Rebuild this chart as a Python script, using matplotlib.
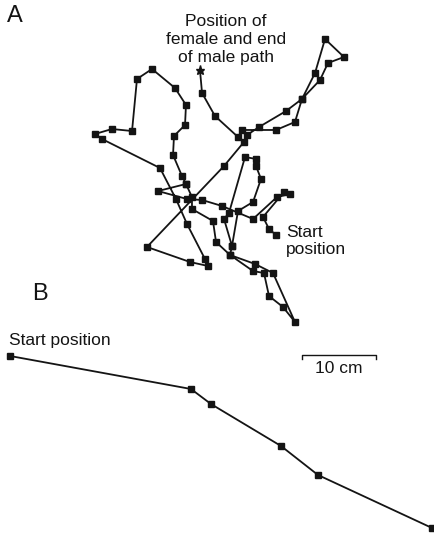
import matplotlib
matplotlib.use("Agg")
import matplotlib.pyplot as plt

plt.rcParams['font.family'] = ['Liberation Sans', 'DejaVu Sans']

# ---- Panel A: male path (cm), main route from start to the female ----
path_a_x = [25.14, 24.19, 23.38, 26.22, 27.03, 25.27, 22.03, 17.84, 15.14, 13.11,
            9.19, 12.97, 12.43, 11.22, 11.35, 12.84, 12.97, 11.49, 8.38, 6.35,
            5.68, 2.97, 0.68, 1.62, 9.46, 11.62, 13.11, 15.54, 15.95, 13.51,
            7.70, 18.11, 20.81, 21.22, 22.84, 26.49, 28.65, 30.41, 31.76, 34.32,
            32.16, 31.08, 28.65, 27.70, 25.14, 20.54, 20.00, 16.89, 15.14]
path_a_y = [12.84, 13.65, 15.27, 18.65, 18.38, 17.97, 15.00, 16.76, 17.57, 17.70,
            18.78, 19.73, 20.81, 23.65, 26.22, 27.70, 30.41, 32.70, 35.27, 33.92,
            26.89, 27.16, 26.49, 25.81, 21.89, 17.70, 14.32, 9.59, 8.65, 9.19,
            11.22, 22.16, 25.41, 26.35, 27.43, 29.59, 31.22, 34.73, 39.32, 36.89,
            36.08, 33.78, 31.22, 28.11, 27.03, 27.03, 26.08, 28.92, 32.03]
# side excursion of the same path
branch_a_x = [12.97, 13.78, 13.78, 16.62, 17.03, 18.92, 22.30, 24.73, 27.70, 26.08,
              24.19, 23.51, 22.03, 18.92, 19.19, 20.00, 22.03, 23.11, 22.43, 22.43,
              20.95, 18.78, 18.11, 19.19]
branch_a_y = [19.73, 17.97, 16.35, 14.73, 11.89, 10.14, 8.92, 7.70, 1.08, 3.11,
              4.59, 7.70, 7.97, 10.14, 11.35, 16.08, 17.30, 20.41, 22.16, 23.11,
              23.38, 15.81, 15.00, 11.35]
female_x = 14.86
female_y = 35.14

# ---- Panel B: straight approach (cm) ----
path_b_x = [1.35, 25.81, 28.51, 37.97, 42.97, 58.38]
path_b_y = [23.92, 19.46, 17.43, 11.76, 7.84, 0.68]

scale_bar_cm = 10
PX_PER_CM = 7.4

W, H = 434, 533
fig = plt.figure(figsize=(W / 100, H / 100), dpi=100)

col = '#141414'
lw = 1.3
ms = 5.0

# axes A: covers px x 90..434, y 0..330 (y up)
ax_a = fig.add_axes([90 / W, (H - 330) / H, (W - 90) / W, 330 / H])
ax_a.set_xlim(0, (W - 90) / PX_PER_CM)
ax_a.set_ylim(0, 330 / PX_PER_CM)
ax_a.axis('off')

ax_a.plot(path_a_x + [female_x], path_a_y + [female_y], color=col, lw=lw, zorder=2,
          clip_on=False)
ax_a.plot(path_a_x, path_a_y, ls='none', marker='s', ms=ms, color=col, zorder=3,
          clip_on=False)
ax_a.plot(branch_a_x, branch_a_y, color=col, lw=lw, marker='s', ms=ms, zorder=2,
          clip_on=False)
ax_a.plot([female_x], [female_y], ls='none', marker='*', ms=6.5, color=col, zorder=3,
          clip_on=False)

# axes B: covers px x 0..434, y 330..533
ax_b = fig.add_axes([0, 0, 1, (H - 330) / H])
ax_b.set_xlim(0, W / PX_PER_CM)
ax_b.set_ylim(0, (H - 330) / PX_PER_CM)
ax_b.axis('off')
ax_b.plot(path_b_x, path_b_y, color=col, lw=lw, marker='s', ms=ms, clip_on=False)

# scale bar (in panel B axes, cm)
sb_x0 = 301.7 / PX_PER_CM
sb_y = (H - 355) / PX_PER_CM
tick = 4 / PX_PER_CM
ax_b.plot([sb_x0, sb_x0, sb_x0 + scale_bar_cm, sb_x0 + scale_bar_cm],
          [sb_y - tick, sb_y, sb_y, sb_y - tick], color=col, lw=1.0, clip_on=False)
ax_b.text(sb_x0 + scale_bar_cm / 2, sb_y - 6 / PX_PER_CM, f'{scale_bar_cm} cm',
          ha='center', va='top', fontsize=12.5, color=col)

def fx(px):
    return px / W

def fy(py):
    return 1 - py / H

fig.text(fx(7), fy(16), 'A', fontsize=17, ha='left', va='center', color=col)
fig.text(fx(32), fy(294), 'B', fontsize=17, ha='left', va='center', color=col)
fig.text(fx(226), fy(39.5), 'Position of\nfemale and end\nof male path', fontsize=12.5,
         ha='center', va='center', linespacing=1.25, color=col)
fig.text(fx(286), fy(241), 'Start\nposition', fontsize=12.5, ha='left', va='center',
         linespacing=1.2, color=col)
fig.text(fx(9), fy(340), 'Start position', fontsize=12.5, ha='left', va='center',
         color=col)

fig.savefig('out.png', dpi=100)
